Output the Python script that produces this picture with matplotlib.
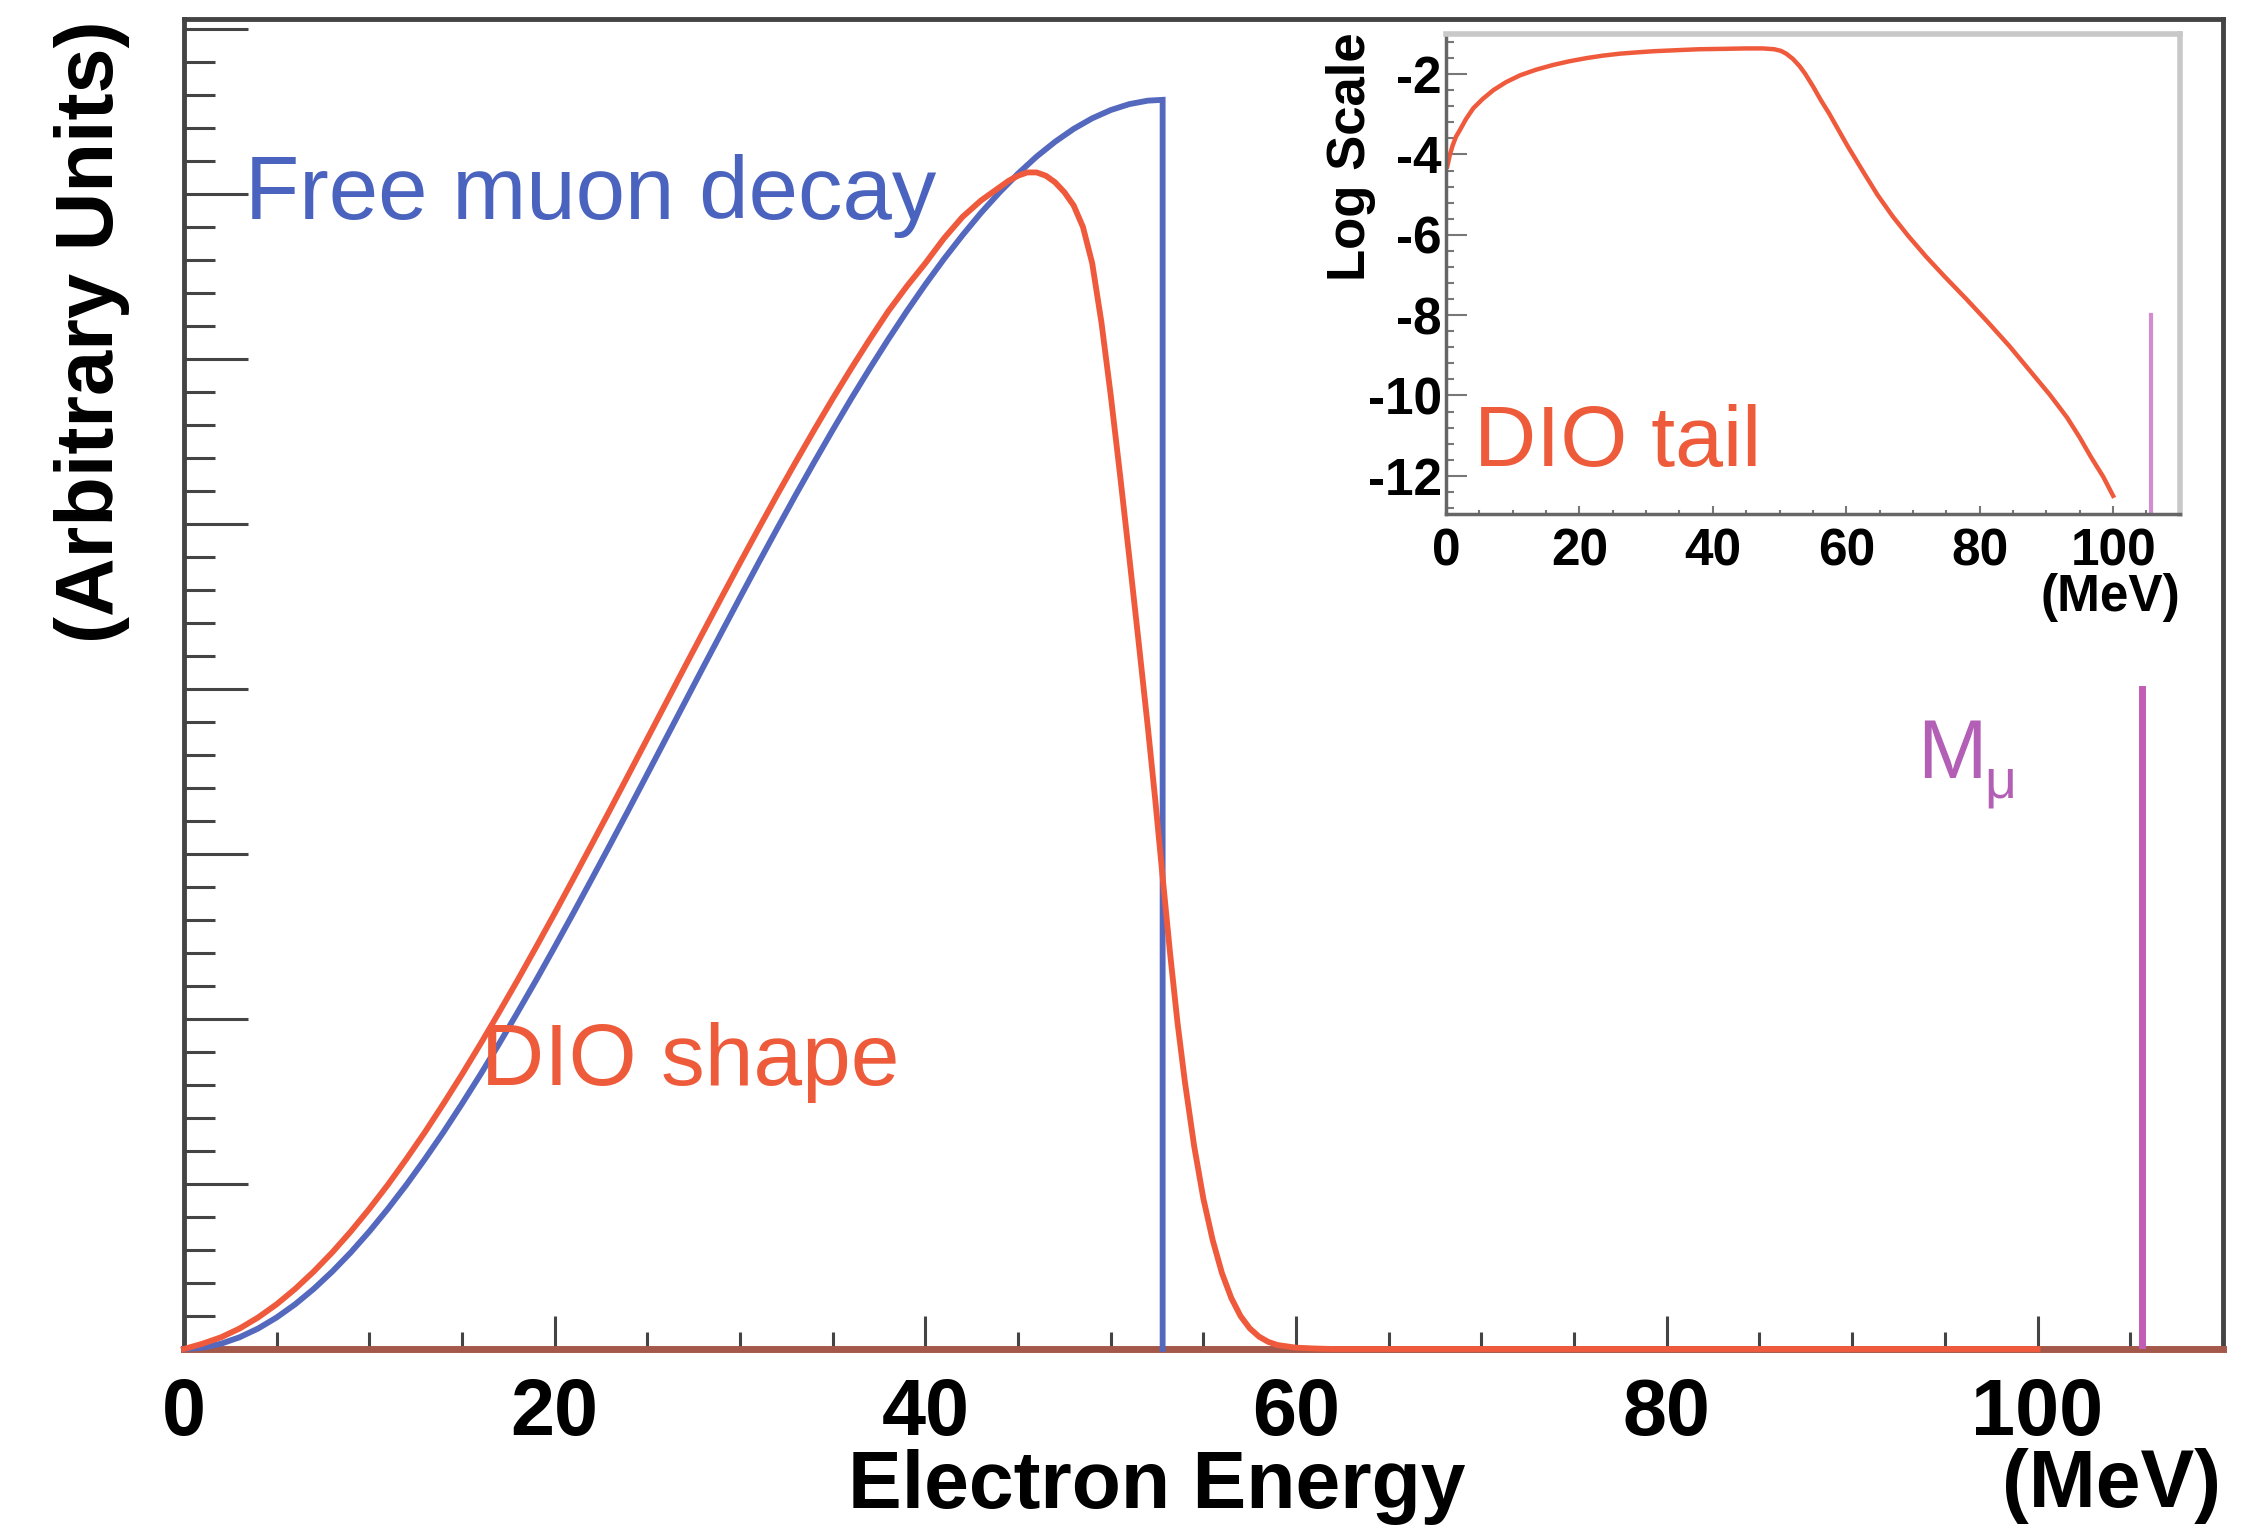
import matplotlib
matplotlib.use("Agg")
import matplotlib.pyplot as plt
from matplotlib.ticker import MultipleLocator

plt.rcParams['font.family'] = ['Liberation Sans', 'DejaVu Sans']

# free muon decay (Michel spectrum), arbitrary units
free_energy = [0, 1, 2, 3, 4, 5, 6, 7, 8, 9, 10, 11, 12, 13, 14, 15, 16, 17, 18,
               19, 20, 21, 22, 23, 24, 25, 26, 27, 28, 29, 30, 31, 32, 33, 34,
               35, 36, 37, 38, 39, 40, 41, 42, 43, 44, 45, 46, 47, 48, 49, 50,
               51, 52, 52.8, 52.8]
free_decay = [0, 0.008, 0.032, 0.071, 0.124, 0.191, 0.271, 0.364, 0.469, 0.585,
              0.712, 0.849, 0.995, 1.151, 1.314, 1.486, 1.664, 1.849, 2.040,
              2.235, 2.436, 2.640, 2.848, 3.058, 3.270, 3.484, 3.699, 3.914,
              4.129, 4.342, 4.554, 4.764, 4.971, 5.175, 5.374, 5.569, 5.759,
              5.942, 6.119, 6.289, 6.451, 6.605, 6.749, 6.885, 7.009, 7.123,
              7.226, 7.316, 7.394, 7.458, 7.508, 7.544, 7.565, 7.57, 0]

# decay-in-orbit shape
dio_energy = [0, 1, 2, 3, 4, 5, 6, 7, 8, 9, 10, 11, 12, 13, 14, 15, 16, 17, 18,
              19, 20, 21, 22, 23, 24, 25, 26, 27, 28, 29, 30, 31, 32, 33, 34,
              35, 36, 37, 38, 39, 40, 41, 42, 43, 44, 44.5, 45, 45.5, 46, 46.5,
              47, 47.5, 48, 48.5, 49, 49.5, 50, 50.5, 51, 51.5, 52, 52.4, 52.8,
              53.2, 53.6, 54, 54.5, 55, 55.5, 56, 56.5, 57, 57.5, 58, 58.5, 59,
              60, 61, 62, 100]
dio_shape = [0, 0.032, 0.071, 0.124, 0.191, 0.271, 0.364, 0.469, 0.585, 0.712,
             0.849, 0.995, 1.151, 1.314, 1.486, 1.664, 1.849, 2.040, 2.235,
             2.436, 2.640, 2.848, 3.058, 3.270, 3.484, 3.699, 3.914, 4.129,
             4.342, 4.554, 4.764, 4.971, 5.175, 5.374, 5.569, 5.759, 5.942,
             6.119, 6.289, 6.44, 6.58, 6.73, 6.86, 6.96, 7.04, 7.08, 7.11, 7.13,
             7.13, 7.11, 7.07, 7.01, 6.93, 6.80, 6.58, 6.22, 5.78, 5.30, 4.80,
             4.29, 3.77, 3.33, 2.86, 2.40, 1.98, 1.62, 1.23, 0.91, 0.66, 0.46,
             0.31, 0.20, 0.125, 0.075, 0.043, 0.024, 0.008, 0.003, 0, 0]

# DIO tail on log scale (inset)
tail_energy = [0.2, 0.6, 1.0, 1.5, 2.1, 3.0, 4.1, 5.5, 7.1, 9.0, 11.1, 13.5,
               16.1, 18.5, 21.1, 23.5, 26.1, 28.5, 31.1, 35.1, 38, 41.8, 45,
               47.5, 49.2, 50.2, 51.0, 52.0, 53.0, 53.8, 55.0, 56.2, 57.4, 58.8,
               60.2, 62.5, 64.7, 67.0, 69.3, 72.0, 74.8, 78.0, 81.2, 84.5, 87.6,
               90.5, 93.1, 95.0, 96.7, 98.5, 100.0]
tail_log = [-4.30, -4.00, -3.78, -3.56, -3.39, -3.12, -2.85, -2.62, -2.40,
            -2.20, -2.03, -1.89, -1.77, -1.68, -1.60, -1.54, -1.49, -1.46,
            -1.43, -1.40, -1.38, -1.37, -1.36, -1.36, -1.38, -1.42, -1.49,
            -1.62, -1.80, -1.98, -2.30, -2.65, -2.97, -3.38, -3.79, -4.42,
            -5.01, -5.55, -6.03, -6.55, -7.05, -7.60, -8.17, -8.78, -9.40,
            -9.98, -10.55, -11.05, -11.54, -12.02, -12.50]

# muon mass line
m_mu = 105.66
m_mu_height = 4.0
m_mu_log_top = -8.0

main_xticks = [0, 20, 40, 60, 80, 100]
inset_yticks = [-12, -10, -8, -6, -4, -2]

BLUE = '#5468be'
RED = '#f05a3c'
MAGENTA = '#c35cb4'
FRAME = '#444444'

fig = plt.figure(figsize=(22.54, 15.30), dpi=100)
ax = fig.add_axes([0.0816, 0.1183, 0.9046, 0.8693])

ax.plot(free_energy, free_decay, color=BLUE, lw=4.2, zorder=3, clip_on=False,
        solid_joinstyle='miter')
ax.plot(dio_energy, dio_shape, color=RED, lw=4.2, zorder=4, clip_on=False)
ax.plot([m_mu, m_mu], [0, m_mu_height], color=MAGENTA, lw=5, zorder=3)

ax.set_xlim(0, 110)
ax.set_ylim(0, 8.06)
ax.xaxis.set_minor_locator(MultipleLocator(5))
ax.yaxis.set_major_locator(MultipleLocator(1))
ax.yaxis.set_minor_locator(MultipleLocator(0.2))
ax.set_xticks(main_xticks)
ax.set_xticklabels([str(t) for t in main_xticks])
ax.set_yticklabels([])
ax.tick_params(axis='x', which='major', direction='in', length=24, width=2.2,
               color=FRAME, labelsize=57, pad=20)
ax.tick_params(axis='x', which='minor', direction='in', length=12, width=2.2,
               color=FRAME)
ax.tick_params(axis='y', which='major', direction='in', length=46, width=2.2,
               color=FRAME)
ax.tick_params(axis='y', which='minor', direction='in', length=22, width=2.2,
               color=FRAME)
for lab in ax.get_xticklabels():
    lab.set_fontweight('bold')

for side in ['left', 'top', 'right']:
    ax.spines[side].set_color(FRAME)
    ax.spines[side].set_linewidth(3.5)
ax.spines['bottom'].set_color('#a4584a')
ax.spines['bottom'].set_linewidth(5)

ax.text(3.3, 6.85, 'Free muon decay', color='#4a63bf', fontsize=64)
ax.text(16.0, 1.60, 'DIO shape', color='#ee5b3b', fontsize=63)
ax.text(93.5, 3.46, 'M', color='#b25fb5', fontsize=60)
ax.text(97.1, 3.34, 'μ', color='#b25fb5', fontsize=40)

fig.text(0.5133, 0.0145, 'Electron Energy', fontsize=58, fontweight='bold',
         ha='center', va='baseline')
fig.text(0.9855, 0.0150, '(MeV)', fontsize=58, fontweight='bold',
         ha='right', va='baseline')
fig.text(0.0408, 0.9870, '(Arbitrary Units)', fontsize=58.5, fontweight='bold',
         rotation=90, ha='center', va='top')

# inset with the log-scale tail
axin = fig.add_axes([0.6415, 0.6641, 0.3256, 0.3137])
axin.plot(tail_energy, tail_log, color=RED, lw=3.2)
axin.set_xlim(0, 110)
axin.set_ylim(-12.95, -1.0)
axin.plot([m_mu, m_mu], [-12.95, m_mu_log_top], color='#d28ccf', lw=3)
axin.set_xticks(main_xticks)
axin.set_xticklabels([str(t) for t in main_xticks])
axin.xaxis.set_minor_locator(MultipleLocator(5))
axin.set_yticks(inset_yticks)
axin.set_yticklabels([str(t) for t in inset_yticks])
axin.yaxis.set_minor_locator(MultipleLocator(0.4))
axin.tick_params(axis='x', which='major', direction='in', length=6, width=1.5,
                 color='#777777', labelsize=37, pad=10)
axin.tick_params(axis='x', which='minor', direction='in', length=3, width=1.5,
                 color='#777777')
axin.tick_params(axis='y', which='major', direction='in', length=15, width=1.5,
                 color='#777777', labelsize=37, pad=3)
axin.tick_params(axis='y', which='minor', direction='in', length=6, width=1.5,
                 color='#777777')
for lab in axin.get_xticklabels() + axin.get_yticklabels():
    lab.set_fontweight('bold')
for side in ['left', 'bottom']:
    axin.spines[side].set_color('#666666')
    axin.spines[side].set_linewidth(2.5)
for side in ['top', 'right']:
    axin.spines[side].set_color('#c8c8c8')
    axin.spines[side].set_linewidth(4)

axin.text(4.2, -11.75, 'DIO tail', color='#ee5b3b', fontsize=62)
fig.text(0.5994, 0.979, 'Log Scale', fontsize=38, fontweight='bold',
         rotation=90, ha='center', va='top')
fig.text(0.9672, 0.6255, '(MeV)', fontsize=37, fontweight='bold',
         ha='right', va='top')

fig.savefig('out.png', dpi=100)
